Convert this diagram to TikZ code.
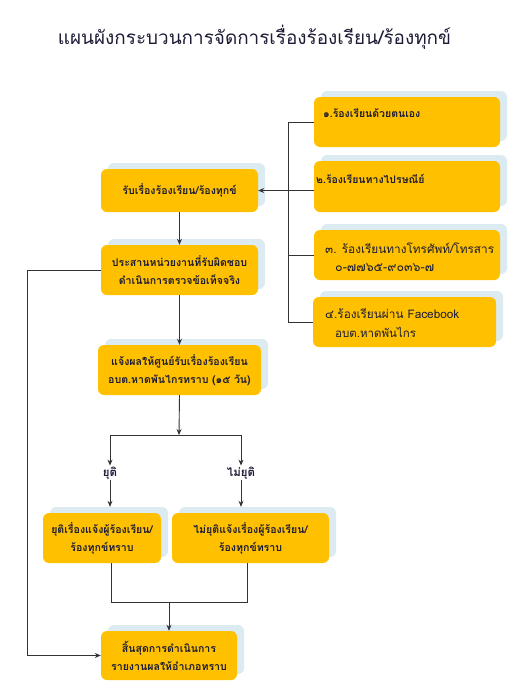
\documentclass[tikz,border=0pt]{standalone}
\usepackage{fontspec}
\setmainfont[Script=Thai]{Loma}
\usetikzlibrary{arrows.meta,shadows,calc}
\definecolor{yel}{HTML}{FFC000}
\definecolor{shd}{HTML}{DCEBF2}
\definecolor{txt}{HTML}{1C1C36}
\definecolor{ln}{HTML}{333333}
\tikzset{
  box/.style={fill=yel, rounded corners=6pt, draw=none, text=txt, align=center,
    inner sep=1pt, font=\fontsize{10.6}{18}\selectfont\bfseries,
    copy shadow={shadow xshift=7pt, shadow yshift=6pt, fill=shd, draw=none}},
  rtext/.style={anchor=west, text=txt, inner sep=0pt, font=\fontsize{12}{18}\selectfont},
  lbl/.style={text=txt, inner sep=1pt, font=\fontsize{11.5}{14}\selectfont\bfseries},
  conn/.style={draw=ln, line width=0.9pt},
  arr/.style={conn, -{Stealth[length=6pt,width=5pt]}}
}
\begin{document}
\begin{tikzpicture}[x=1pt,y=-1pt]
\useasboundingbox (0,0) rectangle (529,699);
\node[text=txt, font=\fontsize{18.9}{22}\selectfont] (title) at (254.5,37) {แผนผังกระบวนการจัดการเรื่องร้องเรียน/ร้องทุกข์};

% left column
\node[box, minimum width=157pt, minimum height=43pt] (recv) at (179.5,190.5) {รับเรื่องร้องเรียน/ร้องทุกข์};
\node[box, minimum width=157pt, minimum height=50pt] (coord) at (179.5,270) {ประสานหน่วยงานที่รับผิดชอบ\\ดำเนินการตรวจข้อเท็จจริง};
\node[box, minimum width=163pt, minimum height=50pt] (notify) at (179.5,370) {แจ้งผลให้ศูนย์รับเรื่องร้องเรียน\\อบต.หาดพันไกรทราบ (๑๕ วัน)};
\node[box, minimum width=118pt, minimum height=50pt] (end1) at (102,538) {ยุติเรื่องแจ้งผู้ร้องเรียน/\\ร้องทุกข์ทราบ};
\node[box, minimum width=157pt, minimum height=50pt] (end2) at (250.5,538) {ไม่ยุติแจ้งเรื่องผู้ร้องเรียน/\\ร้องทุกข์ทราบ};
\node[box, minimum width=136pt, minimum height=49pt] (final) at (169,655.5) {สิ้นสุดการดำเนินการ\\รายงานผลให้อำเภอทราบ};

% right column
\node[box, minimum width=186pt, minimum height=50pt] (A) at (407,122) {};
\node[box, minimum width=186pt, minimum height=51pt] (B) at (407,186.5) {};
\node[box, minimum width=186pt, minimum height=50pt] (C) at (407,255) {};
\node[box, minimum width=183pt, minimum height=50pt] (D) at (404.5,322) {};
\node[rtext, font=\fontsize{10.5}{18}\selectfont\bfseries] (At) at (323,113) {๑.ร้องเรียนด้วยตนเอง};
\node[rtext, font=\fontsize{10.5}{18}\selectfont\bfseries] (Bt) at (316,179) {๒.ร้องเรียนทางไปรษณีย์};
\node[rtext, font=\fontsize{11.8}{18}\selectfont] (Ct1) at (325,248) {๓. ร้องเรียนทางโทรศัพท์/โทรสาร};
\node[rtext, font=\fontsize{12.5}{14}\selectfont] (Ct2) at (335,268) {๐-๗๗๖๕-๙๐๓๖-๗};
\node[rtext, font=\fontsize{11.8}{18}\selectfont] (Dt1) at (325,314) {๔.ร้องเรียนผ่าน Facebook};
\node[rtext, font=\fontsize{11.5}{18}\selectfont] (Dt2) at (335,332) {อบต.หาดพันไกร};

% decision labels
\node[lbl] (l1) at (110,473) {ยุติ};
\node[lbl] (l2) at (241,473) {ไม่ยุติ};

% coordinates
\coordinate (tk) at (288,0);
\coordinate (j) at (179,435);
\coordinate (m1) at (111,602);
\coordinate (m2) at (247,602);
\coordinate (fb) at (27,0);

% right connectors
\draw[conn] (A.west) -- (A.west -| tk) -- (D.west -| tk) -- (D.west);
\draw[conn] (C.west) -- (C.west -| tk);
\draw[arr] (B.west |- recv.east) -- (recv.east);

% main flow
\draw[arr] (recv.south) -- (coord.north);
\draw[arr] (coord.south) -- (notify.north);
\draw[arr] (notify.south) -- (j);
\draw[arr] (j) -| (l1.north);
\draw[arr] (j) -| (l2.north);
\draw[arr, shorten >=6pt] (l1.south) -- (l1.south |- end1.north);
\draw[arr, shorten >=6pt] (l2.south) -- (l2.south |- end2.north);
\draw[conn] (m1 |- end1.south) -- (m1) -- (m2) -- (m2 |- end2.south);
\draw[arr] (final.north |- m1) -- (final.north);

% feedback
\draw[arr] (coord.west) -- (coord.west -| fb) -- (final.west -| fb) -- (final.west);
\end{tikzpicture}
\end{document}
